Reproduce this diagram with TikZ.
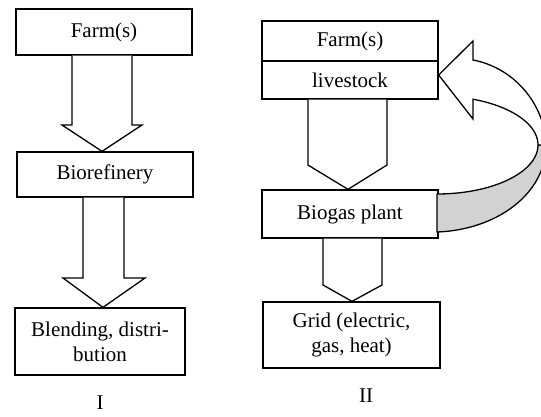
\documentclass[tikz,border=0pt]{standalone}
\usepackage{fontspec}
\setmainfont{Liberation Serif}
\usetikzlibrary{calc}
\definecolor{shadegray}{RGB}{210,210,210}
\tikzset{
  box/.style={draw, line width=1.3pt, fill=white, rectangle, inner sep=0pt, align=center,
              font=\fontsize{21}{25}\selectfont},
  barrow/.style={draw, line width=1.3pt, fill=white, line join=miter},
  lab/.style={inner sep=0pt, font=\fontsize{21}{25}\selectfont}
}
\begin{document}
\begin{tikzpicture}[x=1pt,y=-1pt]
\useasboundingbox (0,0) rectangle (541,416);
% ---- diagram I ----
\node[box, minimum width=176pt, minimum height=46pt] (fA) at (104,32) {Farm(s)};
\node[box, minimum width=176pt, minimum height=45pt] (bA) at (105,174.5) {Biorefinery};
\node[box, minimum width=170pt, minimum height=67pt] (dA) at (100,341.5) {Blending, distri-\\bution};
\node[lab] (lI) at (100,403) {I};
\draw[barrow] (72,0 |- fA.south) -- (72,125) -- (62,125) -- (102,0 |- bA.north)
   -- (142,125) -- (132,125) -- (132,0 |- fA.south);
\draw[barrow] (83,0 |- bA.south) -- (83,278) -- (63,278) -- (103,0 |- dA.north)
   -- (145,278) -- (124,278) -- (124,0 |- bA.south);
% ---- diagram II ----
\node[box, minimum width=176pt, minimum height=40pt] (fB) at (350,41) {Farm(s)};
\node[box, minimum width=176pt, minimum height=38pt] (lB) at (350,80) {livestock};
\node[box, minimum width=176pt, minimum height=48pt] (gB) at (350,214) {Biogas plant};
\node[box, minimum width=177pt, minimum height=66pt] (rB) at (351.5,335) {Grid (electric,\\gas, heat)};
\node[lab] (lII) at (366,396) {II};
\draw[barrow] (308,0 |- lB.south) -- (308,165) -- (348,0 |- gB.north)
   -- (387,165) -- (387,0 |- lB.south);
\draw[barrow] (323,0 |- gB.south) -- (323,285) -- (352,0 |- rB.north)
   -- (382,285) -- (382,0 |- gB.south);
% ---- curved return arrow ----
\begin{scope}
\clip (0,0) rectangle (541,416);
\draw[line width=1.3pt, fill=shadegray, line join=round]
  (437,194) -- plot[domain=90:0, samples=40] ({437+101*cos(\x)},{145+49*sin(\x)})
  -- (546,145) .. controls (546,195) and (495,230) .. (437,232) -- cycle;
\draw[line width=1.3pt, fill=white, line join=miter]
  (lB.east |- 0,75) -- (473,41) -- (473,60) .. controls (515,68) and (545,105) .. (546,145)
  -- (538,145) -- plot[domain=0:-69.1, samples=40] ({437+101*cos(\x)},{145+49*sin(\x)})
  -- (473,119) -- cycle;
\end{scope}
\end{tikzpicture}
\end{document}
